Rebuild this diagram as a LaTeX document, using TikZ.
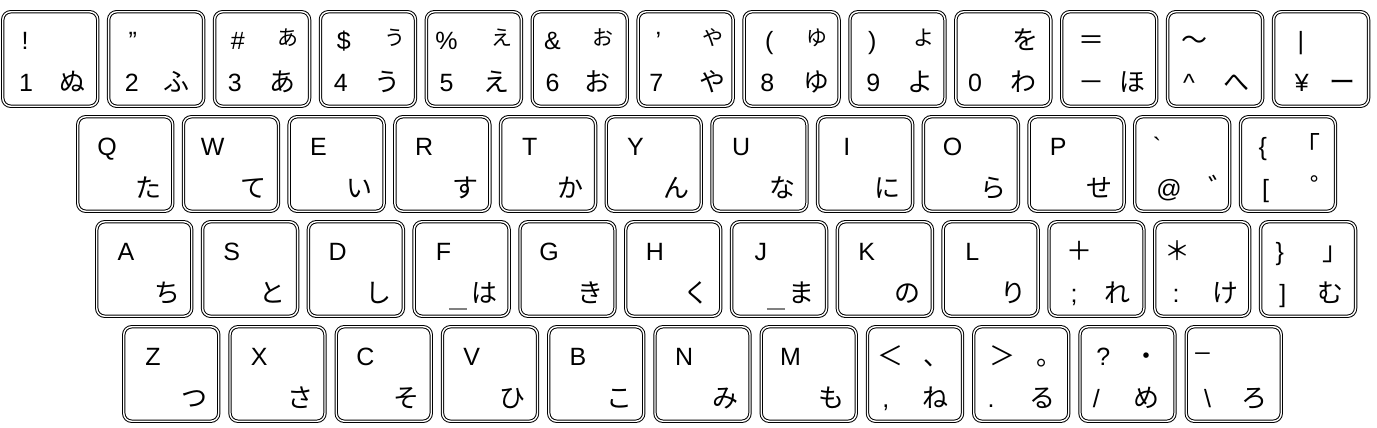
\documentclass[tikz,border=0pt]{standalone}
\usepackage{fontspec}
\setmainfont{Liberation Sans}
\newfontfamily\jp{Noto Sans CJK JP}
\newcommand\keyat[3]{\coordinate (#1o) at (#2,#3);\node[keycap] (#1) at ([shift={(49.25,49)}]#1o) {};}
\newcommand\lb[6]{\node[#3] (#1-#2) at ([shift={(#4,#5)}]#1o) {#6};}
\newcommand\lkey[5]{\keyat{#1}{#2}{#3}\lb{#1}{l}{lat}{31}{40}{#4}\lb{#1}{k}{jpk}{72}{82}{#5}}
\begin{document}
\begin{tikzpicture}[x=1pt,y=-1pt,
  keycap/.style={draw=black, double=white, double distance=1.4pt, line width=1pt,
    rounded corners=8pt, minimum width=95pt, minimum height=94.5pt, inner sep=0pt, outer sep=0pt},
  lat/.style={anchor=base, inner sep=0pt, font=\fontsize{25}{25}\selectfont},
  jpk/.style={anchor=base, inner sep=0pt, font=\jp\fontsize{26}{26}\selectfont},
  jpm/.style={anchor=base, inner sep=0pt, font=\jp\fontsize{29}{29}\selectfont},
  jps/.style={anchor=base, inner sep=0pt, font=\jp\fontsize{21}{21}\selectfont},
  homing/.style={draw=gray, line width=2pt}
]
\useasboundingbox (0,0) rectangle (1377,428);
% ---------- row 1 ----------
\keyat{k1}{1}{10}
\lb{k1}{tl}{lat}{24}{40}{!}
\lb{k1}{bl}{lat}{25}{82}{1}
\lb{k1}{br}{jpk}{71}{82}{ぬ}
\keyat{k2}{106.9}{10}
\lb{k2}{tl}{lat}{26}{40}{”}
\lb{k2}{bl}{lat}{25}{82}{2}
\lb{k2}{br}{jpk}{70}{82}{ふ}
\keyat{k3}{212.8}{10}
\lb{k3}{tl}{lat}{25}{40}{\#}
\lb{k3}{tr}{jps}{75}{36}{あ}
\lb{k3}{bl}{lat}{22}{82}{3}
\lb{k3}{br}{jpk}{70}{82}{あ}
\keyat{k4}{318.7}{10}
\lb{k4}{tl}{lat}{25}{40}{\$}
\lb{k4}{tr}{jps}{76}{36}{う}
\lb{k4}{bl}{lat}{22}{82}{4}
\lb{k4}{br}{jpk}{69}{82}{う}
\keyat{k5}{424.6}{10}
\lb{k5}{tl}{lat}{22}{40}{\%}
\lb{k5}{tr}{jps}{77}{36}{え}
\lb{k5}{bl}{lat}{22}{82}{5}
\lb{k5}{br}{jpk}{72}{82}{え}
\keyat{k6}{530.5}{10}
\lb{k6}{tl}{lat}{22}{40}{\&}
\lb{k6}{tr}{jps}{72}{36}{お}
\lb{k6}{bl}{lat}{22}{82}{6}
\lb{k6}{br}{jpk}{67}{82}{お}
\keyat{k7}{636.4}{10}
\lb{k7}{tl}{lat}{22}{40}{’}
\lb{k7}{tr}{jps}{77}{36}{や}
\lb{k7}{bl}{lat}{20}{82}{7}
\lb{k7}{br}{jpk}{76}{82}{や}
\keyat{k8}{742.3}{10}
\lb{k8}{tl}{lat}{27}{40}{(}
\lb{k8}{tr}{jps}{75}{36}{ゆ}
\lb{k8}{bl}{lat}{25}{82}{8}
\lb{k8}{br}{jpk}{74}{82}{ゆ}
\keyat{k9}{848.2}{10}
\lb{k9}{tl}{lat}{24}{40}{)}
\lb{k9}{tr}{jps}{76}{36}{よ}
\lb{k9}{bl}{lat}{25}{82}{9}
\lb{k9}{br}{jpk}{72}{82}{よ}
\keyat{k10}{954.1}{10}
\lb{k10}{tr}{jpk}{71}{40}{を}
\lb{k10}{bl}{lat}{21}{82}{0}
\lb{k10}{br}{jpk}{69}{82}{わ}
\keyat{k11}{1060}{10}
\lb{k11}{tl}{jpk}{31}{40}{＝}
\lb{k11}{bl}{jpk}{31}{82}{－}
\lb{k11}{br}{jpk}{72}{82}{ほ}
\keyat{k12}{1165.9}{10}
\lb{k12}{tl}{jpk}{29}{40}{～}
\lb{k12}{bl}{lat}{23}{82}{\textasciicircum}
\lb{k12}{br}{jpk}{71}{82}{へ}
\keyat{k13}{1271.8}{10}
\lb{k13}{tl}{lat}{29}{40}{|}
\lb{k13}{bl}{lat}{30}{82}{¥}
\lb{k13}{br}{jpk}{71}{82}{ー}
% ---------- row 2 ----------
\lkey{q}{76}{115}{Q}{た}
\lkey{w}{181.7}{115}{W}{て}
\lkey{e}{287.4}{115}{E}{い}
\lkey{r}{393.1}{115}{R}{す}
\lkey{t}{498.8}{115}{T}{か}
\lkey{y}{604.5}{115}{Y}{ん}
\lkey{u}{710.2}{115}{U}{な}
\lkey{i}{815.9}{115}{I}{に}
\lkey{o}{921.6}{115}{O}{ら}
\lkey{p}{1027.3}{115}{P}{せ}
\keyat{at}{1133}{115}
\lb{at}{tl}{lat}{24}{40}{\textasciigrave}
\lb{at}{bl}{lat}{36}{82}{@}
\lb{at}{br}{jpm}{90}{84}{゛}
\keyat{lbr}{1238.7}{115}
\lb{lbr}{tl}{lat}{24}{40}{\{}
\lb{lbr}{tr}{jpk}{69}{40}{「}
\lb{lbr}{bl}{lat}{27}{82}{[}
\lb{lbr}{br}{jpm}{86}{84}{゜}
% ---------- row 3 ----------
\lkey{a}{95}{220}{A}{ち}
\lkey{s}{200.8}{220}{S}{と}
\lkey{d}{306.6}{220}{D}{し}
\lkey{f}{412.4}{220}{F}{は}
\lkey{g}{518.2}{220}{G}{き}
\lkey{h}{624}{220}{H}{く}
\lkey{j}{729.8}{220}{J}{ま}
\lkey{k}{835.6}{220}{K}{の}
\lkey{l}{941.4}{220}{L}{り}
\coordinate (fh1) at ([shift={(37,89)}]fo);
\coordinate (fh2) at ([shift={(55,89)}]fo);
\draw[homing] (fh1) -- (fh2);
\coordinate (jh1) at ([shift={(37,89)}]jo);
\coordinate (jh2) at ([shift={(55,89)}]jo);
\draw[homing] (jh1) -- (jh2);
\keyat{sc}{1047.2}{220}
\lb{sc}{tl}{jpk}{32}{40}{＋}
\lb{sc}{bl}{lat}{27}{82}{;}
\lb{sc}{br}{jpk}{70}{82}{れ}
\keyat{co}{1153}{220}
\lb{co}{tl}{jpk}{24}{40}{＊}
\lb{co}{bl}{lat}{23}{82}{:}
\lb{co}{br}{jpk}{72}{82}{け}
\keyat{rbr}{1258.8}{220}
\lb{rbr}{tl}{lat}{21}{40}{\}}
\lb{rbr}{tr}{jpk}{77}{40}{」}
\lb{rbr}{bl}{lat}{24}{82}{]}
\lb{rbr}{br}{jpk}{72}{82}{む}
% ---------- row 4 ----------
\lkey{z}{122}{325}{Z}{つ}
\lkey{x}{228.25}{325}{X}{さ}
\lkey{c}{334.5}{325}{C}{そ}
\lkey{v}{440.75}{325}{V}{ひ}
\lkey{b}{547}{325}{B}{こ}
\lkey{n}{653.25}{325}{N}{み}
\lkey{m}{759.5}{325}{M}{も}
\keyat{cm}{865.75}{325}
\lb{cm}{tl}{jpk}{25}{40}{＜}
\lb{cm}{tr}{jpk}{71}{40}{、}
\lb{cm}{bl}{lat}{20}{82}{,}
\lb{cm}{br}{jpk}{70}{82}{ね}
\keyat{pd}{972}{325}
\lb{pd}{tl}{jpk}{30}{40}{＞}
\lb{pd}{tr}{jpk}{77}{40}{。}
\lb{pd}{bl}{lat}{19}{82}{.}
\lb{pd}{br}{jpk}{70}{82}{る}
\keyat{sl}{1078.25}{325}
\lb{sl}{tl}{lat}{25}{40}{?}
\lb{sl}{tr}{jpk}{68}{40}{・}
\lb{sl}{bl}{lat}{18}{82}{/}
\lb{sl}{br}{jpk}{68}{82}{め}
\keyat{bs}{1184.5}{325}
\lb{bs}{tl}{lat}{18}{24}{\_}
\lb{bs}{bl}{lat}{23}{82}{\textbackslash}
\lb{bs}{br}{jpk}{70}{82}{ろ}
\end{tikzpicture}
\end{document}
